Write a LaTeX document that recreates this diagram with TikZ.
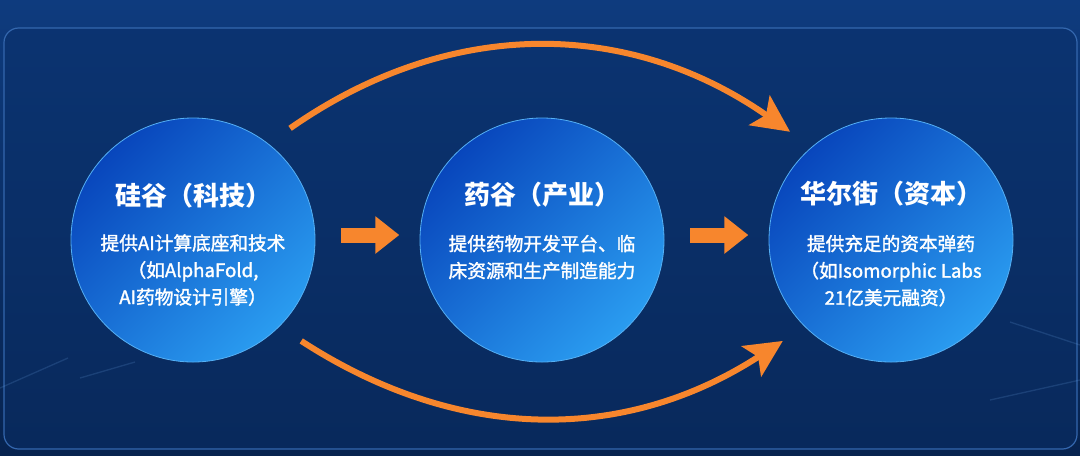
\documentclass[tikz,border=0pt]{standalone}
\usepackage{fontspec}
\usepackage{tikz}
\usetikzlibrary{positioning, arrows.meta}
\newfontfamily\cjk{Noto Sans CJK SC}
\newfontfamily\cjkmid[FakeBold=1.6]{Noto Sans CJK SC}
\definecolor{bgtop}{HTML}{0E3B7E}
\definecolor{bgbot}{HTML}{07234F}
\definecolor{panel}{HTML}{0A2F68}
\definecolor{rim}{HTML}{3467AE}
\definecolor{streak}{HTML}{6FA8E8}
\definecolor{hubdark}{HTML}{0846BC}
\definecolor{hublight}{HTML}{2A9CF0}
\definecolor{hubrim}{HTML}{55B0F5}
\definecolor{flame}{HTML}{F7862D}
\tikzset{node distance=261.75pt, on grid,
  hub/.style={circle, minimum size=183pt, inner sep=0pt, outer sep=19.5pt, shading=axis, top color=hubdark, bottom color=hublight, shading angle=45, draw=hubrim, line width=0.6pt},
  head/.style={text=white, font=\cjk\bfseries\fontsize{19.5}{23}\selectfont, inner sep=0pt},
  desc/.style={text=white, font=\cjkmid\fontsize{14}{20.25}\selectfont, align=center, inner sep=0pt, anchor=north},
  push/.style={draw=flame, line width=11.25pt, shorten >=-4pt, -{Triangle[length=18pt, width=27pt]}},
  leap/.style={draw=flame, line width=4.5pt, -{Stealth[length=28pt, width=27pt, inset=6pt]}},
  faint/.style={draw=streak, line width=1pt, opacity=0.18}}

\begin{document}
\begin{tikzpicture}[x=0.75pt, y=-0.75pt]
    \fill[top color=bgtop, bottom color=bgbot] (0,0) rectangle (1080,455);
    \useasboundingbox (0,0) rectangle (1080,455);
    \draw[rim, line width=0.9pt, fill=panel, fill opacity=0.5, rounded corners=11pt] (4,28) rectangle (1077,449);
    % faint light streaks
    \draw[faint] (0,388) -- (68,358);
    \draw[faint] (80,378) -- (135,362);
    \draw[faint] (1010,322) -- (1080,345);
    \draw[faint] (990,400) -- (1080,380);

    \node[hub] (c1) at (193,240) {};
    \node[hub, right=of c1] (c2) {};
    \node[hub, right=of c2] (c3) {};

    \node[head] (t1) at ([yshift=33.5pt]c1.center) {硅谷（科技）};
    \node[head] (t2) at ([yshift=34pt]c2.center) {药谷（产业）};
    \node[head] (t3) at ([yshift=34.5pt]c3.center) {华尔街（资本）};

    \node[desc] (d1) at ([yshift=4.5pt]c1.center) {提供AI计算底座和技术\\（如AlphaFold,\\AI药物设计引擎）};
    \node[desc] (d2) at ([yshift=4pt]c2.center) {提供药物开发平台、临\\床资源和生产制造能力};
    \node[desc] (d3) at ([yshift=4pt]c3.center) {提供充足的资本弹药\\（如Isomorphic Labs\\21亿美元融资）};

    \draw[push] ([yshift=3.75pt]c1.east) -- ([yshift=3.75pt]c2.west);
    \draw[push] ([yshift=3.75pt]c2.east) -- ([yshift=3.75pt]c3.west);
    \draw[leap] (c1.49) to[out=35, in=145] (c3.133);
    \draw[leap] (c1.-43) to[out=-33, in=-147] (c3.-137);
\end{tikzpicture}
\end{document}
